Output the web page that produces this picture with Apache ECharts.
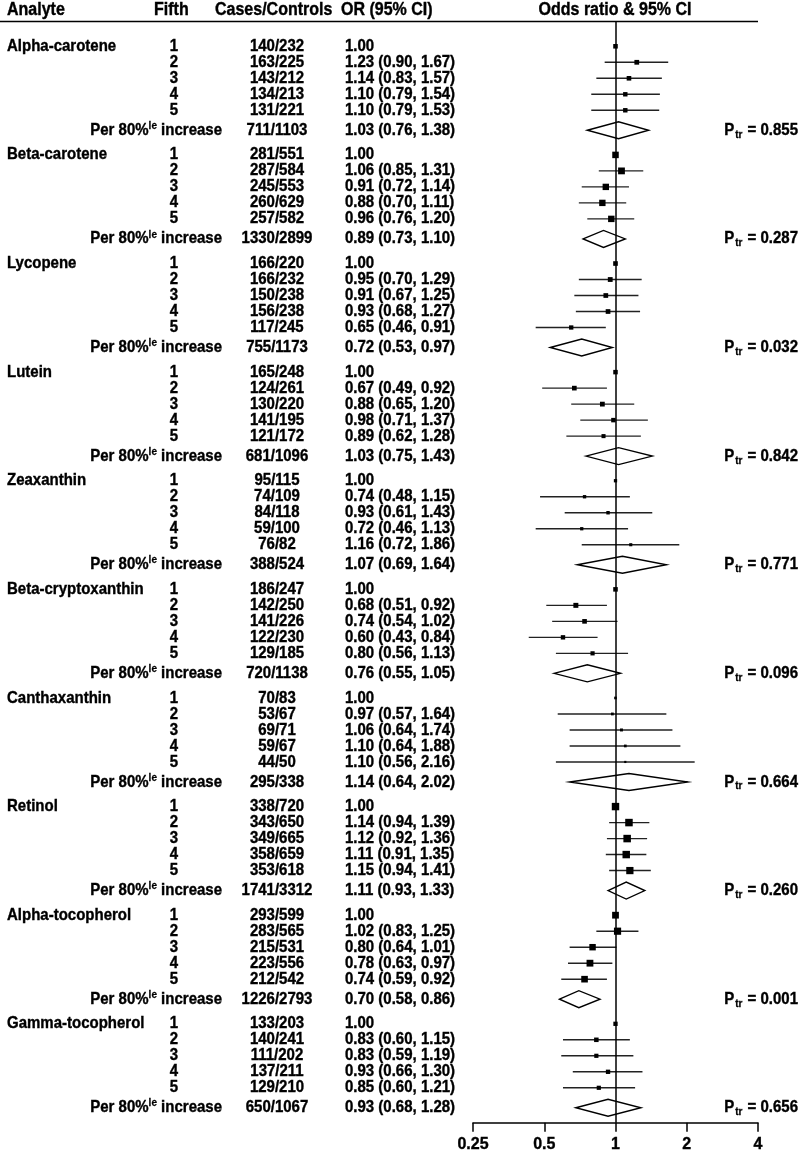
<!DOCTYPE html>
<html><head><meta charset="utf-8">
<script src="https://cdn.jsdelivr.net/npm/echarts@6/dist/echarts.min.js"></script>
<style>html,body{margin:0;padding:0;background:#fff}#c{width:800px;height:1153px}</style>
</head><body><div id="c"></div>
<script>
// ---------------- data ----------------
const analytes = ['Alpha-carotene','Beta-carotene','Lycopene','Lutein','Zeaxanthin','Beta-cryptoxanthin','Canthaxanthin','Retinol','Alpha-tocopherol','Gamma-tocopherol'];
const fifths = ['1','2','3','4','5'];
const fifthCases = [[140,163,143,134,131],[281,287,245,260,257],[166,166,150,156,117],[165,124,130,141,121],[95,74,84,59,76],[186,142,141,122,129],[70,53,69,59,44],[338,343,349,358,353],[293,283,215,223,212],[133,140,111,137,129]];
const fifthControls = [[232,225,212,213,221],[551,584,553,629,582],[220,232,238,238,245],[248,261,220,195,172],[115,109,118,100,82],[247,250,226,230,185],[83,67,71,67,50],[720,650,665,659,618],[599,565,531,556,542],[203,241,202,211,210]];
const fifthOR = [[1.00,1.23,1.14,1.10,1.10],[1.00,1.06,0.91,0.88,0.96],[1.00,0.95,0.91,0.93,0.65],[1.00,0.67,0.88,0.98,0.89],[1.00,0.74,0.93,0.72,1.16],[1.00,0.68,0.74,0.60,0.80],[1.00,0.97,1.06,1.10,1.10],[1.00,1.14,1.12,1.11,1.15],[1.00,1.02,0.80,0.78,0.74],[1.00,0.83,0.83,0.93,0.85]];
const fifthLo = [[null,0.90,0.83,0.79,0.79],[null,0.85,0.72,0.70,0.76],[null,0.70,0.67,0.68,0.46],[null,0.49,0.65,0.71,0.62],[null,0.48,0.61,0.46,0.72],[null,0.51,0.54,0.43,0.56],[null,0.57,0.64,0.64,0.56],[null,0.94,0.92,0.91,0.94],[null,0.83,0.64,0.63,0.59],[null,0.60,0.59,0.66,0.60]];
const fifthHi = [[null,1.67,1.57,1.54,1.53],[null,1.31,1.14,1.11,1.20],[null,1.29,1.25,1.27,0.91],[null,0.92,1.20,1.37,1.28],[null,1.15,1.43,1.13,1.86],[null,0.92,1.02,0.84,1.13],[null,1.64,1.74,1.88,2.16],[null,1.39,1.36,1.35,1.41],[null,1.25,1.01,0.97,0.92],[null,1.15,1.19,1.30,1.21]];
const perCases = [711,1330,755,681,388,720,295,1741,1226,650];
const perControls = [1103,2899,1173,1096,524,1138,338,3312,2793,1067];
const perOR = [1.03,0.89,0.72,1.03,1.07,0.76,1.14,1.11,0.70,0.93];
const perLo = [0.76,0.73,0.53,0.75,0.69,0.55,0.64,0.93,0.58,0.68];
const perHi = [1.38,1.10,0.97,1.43,1.64,1.05,2.02,1.33,0.86,1.28];
const pTrend = ['0.855','0.287','0.032','0.842','0.771','0.096','0.664','0.260','0.001','0.656'];
const xTicks = [0.25,0.5,1,2,4];

// ---------------- layout helpers ----------------
const FONT = "'Liberation Sans', Arial, Helvetica, sans-serif";
const BLOCK = 6.79, PER_OFFSET = 5.25;
const SY = 1.1; // vertical text stretch to match the reference glyphs
const fifthY = (b, r) => b * BLOCK + r;
const perY = b => b * BLOCK + PER_OFFSET;
const f2 = v => v.toFixed(2);

// per-fifth rows with inverse-variance based marker size
const fifthRows = [];
analytes.forEach((name, b) => {
  const sizes = [];
  for (let r = 0; r < 5; r++) {
    const lo = fifthLo[b][r], hi = fifthHi[b][r];
    let s = null;
    if (lo != null) {
      const se = (Math.log(hi) - Math.log(lo)) / 3.92;
      s = 0.75 * Math.sqrt(1 / (se * se));
    }
    sizes.push(s);
  }
  const valid = sizes.filter(s => s != null);
  const mean = valid.reduce((a, c) => a + c, 0) / valid.length;
  for (let r = 0; r < 5; r++) {
    fifthRows.push({b, r, or: fifthOR[b][r], lo: fifthLo[b][r], hi: fifthHi[b][r], y: fifthY(b, r), size: sizes[r] == null ? mean : sizes[r]});
  }
});

const textRows = [];
analytes.forEach((name, b) => {
  for (let r = 0; r < 5; r++) {
    const lo = fifthLo[b][r];
    textRows.push({b, r, y: fifthY(b, r), name: r === 0 ? name : '', fifth: fifths[r],
      cc: fifthCases[b][r] + '/' + fifthControls[b][r],
      orText: lo == null ? f2(fifthOR[b][r]) : f2(fifthOR[b][r]) + ' (' + f2(lo) + ', ' + f2(fifthHi[b][r]) + ')'});
  }
  textRows.push({b, r: 5, y: perY(b), per: true,
    cc: perCases[b] + '/' + perControls[b],
    orText: f2(perOR[b]) + ' (' + f2(perLo[b]) + ', ' + f2(perHi[b]) + ')', p: pTrend[b]});
});

const chart = echarts.init(document.getElementById('c'), null, {renderer: 'canvas'});
const bold15 = {fontFamily: FONT, fontWeight: 'bold', fontSize: 15, stroke: '#000', lineWidth: 0.35};

function txt(x, y, text, align, extra) {
  return {type: 'text', x, y, scaleY: SY, style: Object.assign({text, fill: '#000', align, verticalAlign: 'middle'}, bold15, extra || {})};
}

const option = {
  animation: false,
  backgroundColor: '#fff',
  grid: {left: 473, right: 42, top: 21.5, bottom: 30, containLabel: false},
  xAxis: {
    type: 'log', logBase: 2, min: xTicks[0], max: xTicks[xTicks.length - 1], position: 'bottom',
    axisLine: {show: true, onZero: false, lineStyle: {color: '#000', width: 1.5}},
    axisTick: {show: true, inside: false, length: 9, lineStyle: {color: '#000', width: 1.5}},
    axisLabel: {show: true, margin: 14, color: '#000', fontFamily: FONT, fontWeight: 'bold', fontSize: 16,
      textBorderColor: '#000', textBorderWidth: 0.35,
      formatter: v => { const m = xTicks.find(t => Math.abs(t - v) < 1e-6); return m == null ? '' : String(m); }},
    splitLine: {show: false}, minorTick: {show: false}
  },
  yAxis: {type: 'value', inverse: true, min: -1.55, max: 67.3, show: false},
  graphic: [
    {type: 'line', shape: {x1: 0, y1: 21.5, x2: 758, y2: 21.5}, style: {stroke: '#000', lineWidth: 1.5}},
    txt(7, 10, 'Analyte', 'left', {fontSize: 16}),
    txt(154, 10, 'Fifth', 'left', {fontSize: 16}),
    txt(215, 10, 'Cases/Controls', 'left', {fontSize: 16}),
    txt(341, 10, 'OR (95% CI)', 'left', {fontSize: 16}),
    txt(615, 10, 'Odds ratio & 95% CI', 'center', {fontSize: 16})
  ],
  series: [
    {
      type: 'custom', name: 'fifths', clip: false,
      data: fifthRows.map(d => [d.or, d.y]),
      renderItem: (params, api) => {
        const d = fifthRows[params.dataIndex];
        const c = api.coord([d.or, d.y]);
        const children = [];
        if (d.lo != null) {
          const a = api.coord([d.lo, d.y]), z = api.coord([d.hi, d.y]);
          children.push({type: 'line', shape: {x1: a[0], y1: a[1], x2: z[0], y2: z[1]}, style: {stroke: '#222', lineWidth: 1.4}});
        }
        const s = d.size;
        children.push({type: 'rect', shape: {x: c[0] - s / 2, y: c[1] - s / 2, width: s, height: s}, style: {fill: '#000'}});
        return {type: 'group', children};
      },
      markLine: {silent: true, symbol: ['none', 'none'], label: {show: false},
        lineStyle: {color: '#000', width: 1.5, type: 'solid'}, data: [{xAxis: 1}]}
    },
    {
      type: 'custom', name: 'per', clip: false,
      data: perOR.map((v, b) => [v, perY(b)]),
      renderItem: (params, api) => {
        const b = params.dataIndex;
        const y = perY(b);
        const c = api.coord([perOR[b], y]);
        const a = api.coord([perLo[b], y]);
        const z = api.coord([perHi[b], y]);
        const h = 8.5;
        return {type: 'polygon', shape: {points: [[a[0], c[1]], [c[0], c[1] - h], [z[0], c[1]], [c[0], c[1] + h]]},
          style: {fill: '#fff', stroke: '#000', lineWidth: 1.4}, z2: 5};
      }
    },
    {
      type: 'custom', name: 'text', clip: false,
      data: textRows.map(t => [1, t.y]),
      renderItem: (params, api) => {
        const t = textRows[params.dataIndex];
        const y = api.coord([1, t.y])[1];
        const ch = [];
        const sub = {fill: '#000', fontFamily: FONT, fontWeight: 'bold', fontSize: 10, lineHeight: 10, stroke: '#000', lineWidth: 0.25};
        const main = Object.assign({fill: '#000', lineHeight: 18}, bold15);
        if (t.per) {
          ch.push({type: 'text', x: 222, y, scaleY: SY, style: {text: '{a|Per 80%}{s|le}{a| increase}', align: 'right', verticalAlign: 'middle',
            rich: {a: main, s: Object.assign({verticalAlign: 'top'}, sub)}}});
          ch.push({type: 'text', x: 798, y, scaleY: SY, style: {text: '{a|P}{s|tr}{a| = ' + t.p + '}', align: 'right', verticalAlign: 'middle',
            rich: {a: main, s: Object.assign({verticalAlign: 'bottom', padding: [0, 1, 0, 1]}, sub)}}});
        } else {
          if (t.name) ch.push(txt(7, y, t.name, 'left'));
          ch.push(txt(174, y, t.fifth, 'center'));
        }
        ch.push(txt(277, y, t.cc, 'center'));
        ch.push(txt(345, y, t.orText, 'left'));
        return {type: 'group', children: ch};
      }
    }
  ]
};
chart.setOption(option);
</script></body></html>
